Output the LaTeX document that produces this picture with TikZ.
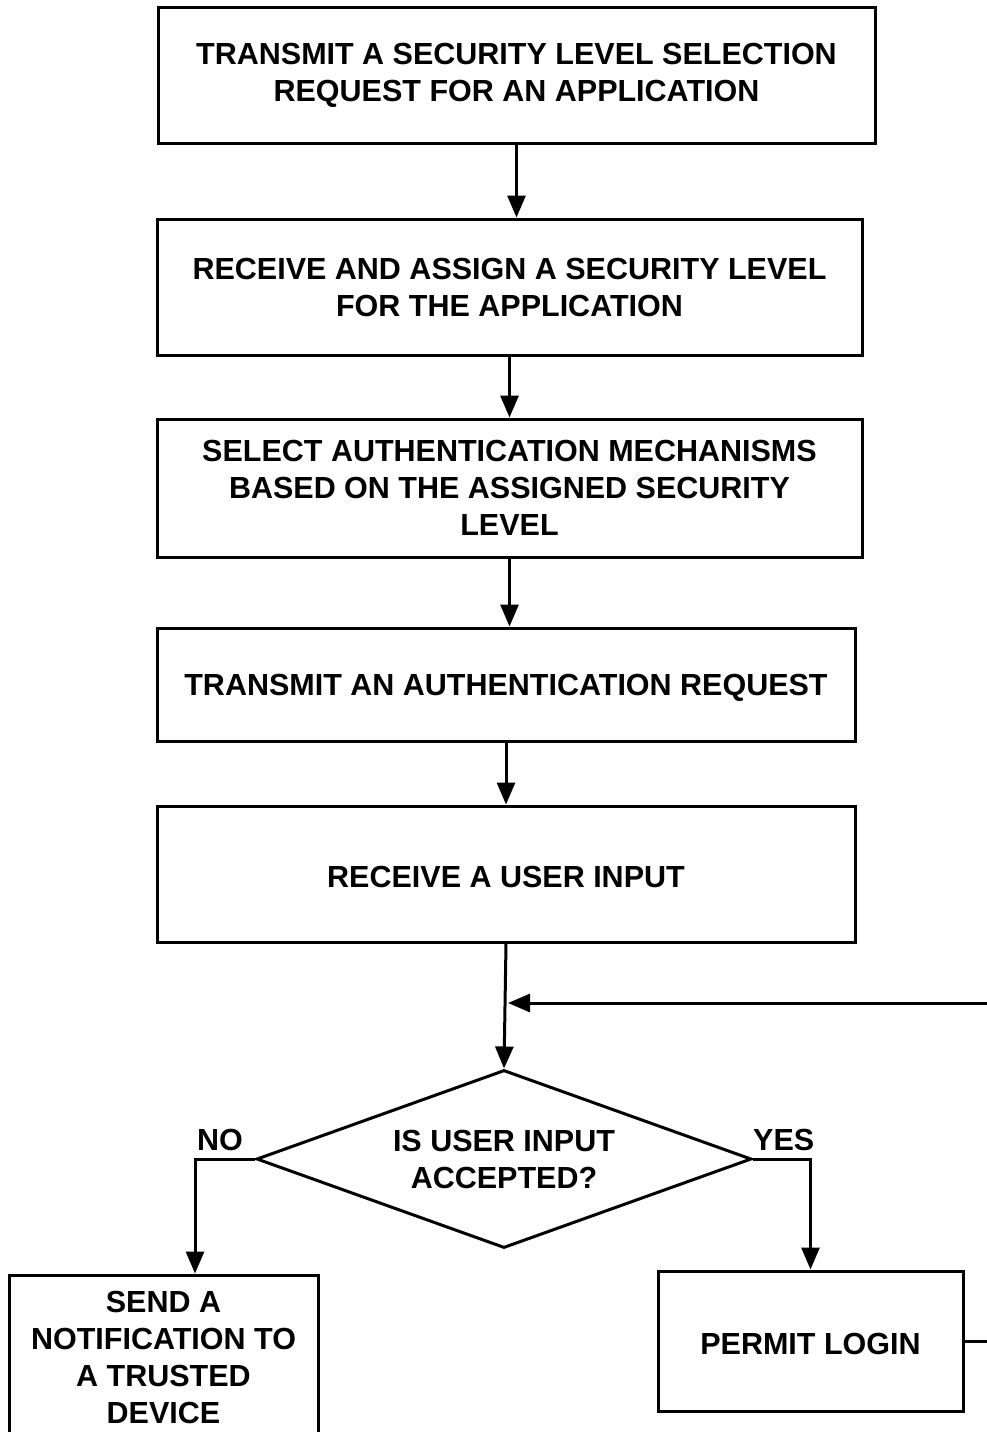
\documentclass[tikz,border=0pt]{standalone}
\usepackage{fontspec}
\setmainfont{Liberation Sans}
\usetikzlibrary{positioning, shapes.geometric, arrows.meta}

\begin{document}
\begin{tikzpicture}[
  procbox/.style={
    rectangle, draw=black, line width=3pt,
    minimum width=#1, minimum height=136pt,
    align=center, font=\fontsize{30.5}{37}\selectfont\bfseries,
    execute at begin node={\rule{0pt}{28pt}}, inner sep=0pt,
  },
  decision/.style={
    diamond, draw=black, line width=3pt,
    minimum width=495pt, minimum height=178pt, shape aspect=2.78,
    align=center, font=\fontsize{30.5}{37}\selectfont\bfseries,
    execute at begin node={\rule{0pt}{26pt}}, inner sep=0pt,
  },
  blabel/.style={font=\fontsize{30.5}{37}\selectfont\bfseries, inner sep=0pt},
  arrow/.style={-{Triangle[length=22pt,width=18pt]}, line width=3pt},
  link/.style={line width=3pt},
]
% Page frame, the picture is cut off on the right and at the bottom.
\useasboundingbox (0,0) rectangle (987pt,-1432pt);

% Main column of steps, top to bottom.
\node[procbox=717pt] (transmit) at (516.5pt,-75pt)
  {TRANSMIT A SECURITY LEVEL SELECTION\\REQUEST FOR AN APPLICATION};
\node[procbox=705pt, below=73pt of transmit, xshift=-7pt] (assign)
  {RECEIVE AND ASSIGN A SECURITY LEVEL\\FOR THE APPLICATION};
\node[procbox=705pt, minimum height=138pt, below=61pt of assign] (select)
  {SELECT AUTHENTICATION MECHANISMS\\BASED ON THE ASSIGNED SECURITY\\LEVEL};
\node[procbox=698pt, minimum height=113pt, below=68pt of select, xshift=-3.5pt] (authreq)
  {TRANSMIT AN AUTHENTICATION REQUEST};
\node[procbox=698pt, below=62pt of authreq] (input)
  {RECEIVE A USER INPUT};
\node[decision, below=125pt of input, xshift=-2pt] (accepted)
  {IS USER INPUT\\ACCEPTED?};

% Two outcomes of the check.
\node[procbox=309pt, minimum height=164pt, below=24pt of accepted, xshift=-340.5pt] (notify)
  {SEND A\\NOTIFICATION TO\\A TRUSTED\\DEVICE};
\node[procbox=305pt, minimum height=140pt, below=20pt of accepted, xshift=306.5pt] (permit)
  {PERMIT LOGIN};

\node[blabel, anchor=base east] (nolbl)  at ([xshift=-12pt,yshift=9pt]accepted.west) {NO};
\node[blabel, anchor=base west] (yeslbl) at ([yshift=9pt]accepted.east) {YES};

% Arrows down the column.
\draw[arrow] (transmit.south) -- (assign.north -| transmit.south);
\draw[arrow] (assign.south)   -- (select.north);
\draw[arrow] (select.south)   -- (authreq.north -| select.south);
\draw[arrow] (authreq.south)  -- (input.north);
\draw[arrow] (input.south)    -- (accepted.north);

% Branches.
\draw[arrow] (accepted.west) -- ++(-60pt,0) coordinate (nobend) -- (nobend |- notify.north);
\draw[arrow] (accepted.east) -| (permit.north);

% Loop back from the right edge.
\coordinate (loopin) at (987pt,-1003pt);
\draw[arrow] (loopin) -- ([xshift=4pt]loopin -| accepted.north);
\draw[link] (permit.east) -- (permit.east -| loopin);

\end{tikzpicture}
\end{document}
